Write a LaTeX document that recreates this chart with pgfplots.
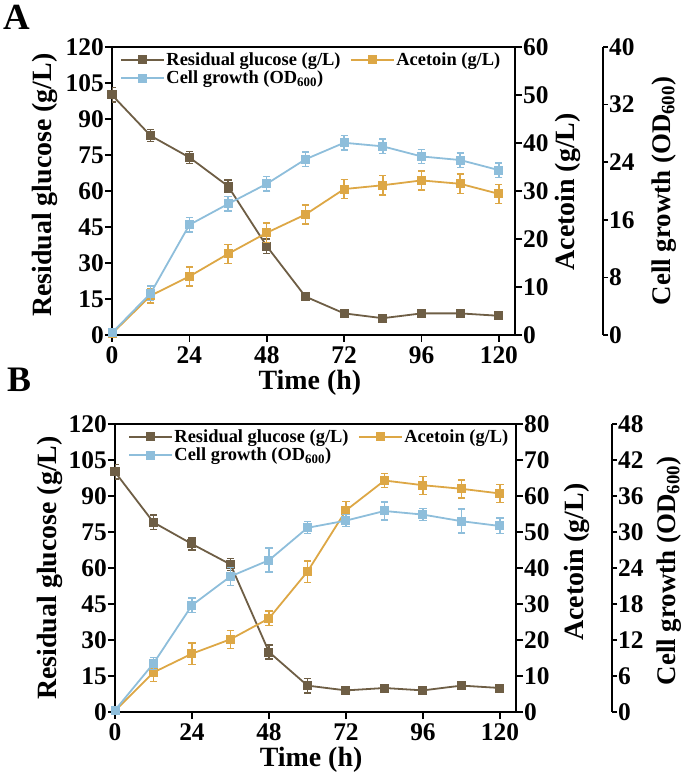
\documentclass[border=0pt]{standalone}
\usepackage{pgfplots}
\pgfplotsset{compat=1.18}
\usepackage{fontspec}
\setmainfont{Liberation Serif}

\definecolor{glu}{HTML}{6E5E45}
\definecolor{ace}{HTML}{DDA745}
\definecolor{od}{HTML}{8EBEDB}

\pgfplotsset{
  base/.style={scale only axis, height=288bp, xmin=0, xmax=125,
    axis line style={line width=1.8bp},
    tick style={line width=1.6bp, black},
    major tick length=7bp, tick align=outside,
    tick label style={font=\fontsize{25.5}{25.5}\selectfont\bfseries, inner sep=1bp},
    /pgf/number format/assume math mode=true,
    label style={font=\fontsize{28}{28}\selectfont\bfseries},
  },
  ser/.style={color=#1, line width=1.8bp, mark=square*, mark size=3.6bp,
    mark options={solid}},
  eb/.style={error bars/.cd, y dir=both, y explicit,
    error bar style={line width=1.4bp, solid},
    error mark options={rotate=90, mark size=3.6bp, line width=1.4bp},
    /pgfplots/.cd},
  leg/.style={legend columns=2, legend cell align=left,
    legend style={at={(axis description cs:0,1)}, anchor=north west,
      xshift=#1, yshift=-4bp, draw=none, fill=none,
      font=\fontsize{18.5}{18.5}\selectfont\bfseries,
      inner sep=0pt, row sep=1bp, nodes={inner sep=1.5bp},
      /tikz/every even column/.append style={column sep=8bp}},
    legend image code/.code={\draw[mark repeat=2,mark phase=2]
      plot coordinates {(0bp,0bp)(21.5bp,0bp)(43bp,0bp)};}},
}

\begin{document}
\begin{tikzpicture}
\useasboundingbox (0,0) rectangle (685bp,775bp);

\node[anchor=base west, inner sep=0] at (3bp,745bp) {\fontsize{37}{37}\selectfont\bfseries A};
\node[anchor=base west, inner sep=0] at (7bp,383bp) {\fontsize{36}{36}\selectfont\bfseries B};

% ---------------- panel A ----------------
\begin{axis}[base, leg=8bp, at={(112bp,440bp)}, anchor=south west, width=403bp,
  ymin=0, ymax=120, ytick={0,15,...,120}, xtick={0,24,...,120},
  xtick pos=bottom, ytick pos=left,
  xticklabel style={yshift=-3bp},
  xlabel={Time (h)}, ylabel={Residual glucose (g/L)},
  xlabel style={at={(axis description cs:0.491,-0.166)}, anchor=center},
  ylabel style={at={(axis description cs:-0.166,0.52)}, anchor=center}]
\addlegendimage{ser=glu}\addlegendentry{Residual glucose (g/L)}
\addlegendimage{ser=ace}\addlegendentry{Acetoin (g/L)}
\addlegendimage{ser=od}\addlegendentry{Cell growth (OD\textsubscript{600})}
\addplot[forget plot, ser=glu, eb] coordinates {
  (0,100) +- (0,3) (12,83) +- (0,2.5) (24,74) +- (0,2.5) (36,62) +- (0,2.5)
  (48,37) +- (0,3) (60,16) +- (0,1) (72,9) +- (0,1) (84,7) +- (0,1)
  (96,9) +- (0,0.8) (108,9) +- (0,0.8) (120,8) +- (0,1)};
\end{axis}

\begin{axis}[base, at={(112bp,440bp)}, anchor=south west, width=403bp,
  hide x axis, axis y line*=right, ymin=0, ymax=60, ytick={0,10,...,60},
  ylabel={Acetoin (g/L)},
  ylabel style={at={(axis description cs:1.1315,0.497)}, anchor=center}]
\addplot[ser=ace, eb] coordinates {
  (0,0.3) +- (0,0) (12,8.2) +- (0,1.5) (24,12.2) +- (0,2) (36,16.9) +- (0,2)
  (48,21.3) +- (0,2) (60,25.1) +- (0,2) (72,30.4) +- (0,2) (84,31.2) +- (0,2)
  (96,32.2) +- (0,2) (108,31.5) +- (0,2) (120,29.4) +- (0,2)};
\end{axis}

\begin{axis}[base, at={(112bp,440bp)}, anchor=south west, width=403bp,
  hide axis, ymin=0, ymax=40]
\addplot[ser=od, eb] coordinates {
  (0,0.3) +- (0,0) (12,5.8) +- (0,1) (24,15.3) +- (0,1) (36,18.2) +- (0,1)
  (48,21) +- (0,1) (60,24.4) +- (0,1) (72,26.7) +- (0,1) (84,26.2) +- (0,1)
  (96,24.8) +- (0,1) (108,24.3) +- (0,1) (120,22.9) +- (0,1)};
\end{axis}

\begin{axis}[base, at={(603bp,440bp)}, anchor=south east, width=10bp,
  xmin=0, xmax=1, hide x axis, axis y line*=right, ymin=0, ymax=40,
  ytick={0,8,...,40}, major tick length=5bp,
  ylabel={Cell growth (OD\textsubscript{600})},
  ylabel style={at={(axis description cs:7.1,0.5)}, anchor=center,
    font=\fontsize{27}{27}\selectfont\bfseries}]
\end{axis}

% ---------------- panel B ----------------
\begin{axis}[base, leg=13bp, at={(115bp,63bp)}, anchor=south west, width=401bp,
  ymin=0, ymax=120, ytick={0,15,...,120}, xtick={0,24,...,120},
  xtick pos=bottom, ytick pos=left,
  xticklabel style={yshift=-3bp},
  xlabel={Time (h)}, ylabel={Residual glucose (g/L)},
  xlabel style={at={(axis description cs:0.489,-0.167)}, anchor=center},
  ylabel style={at={(axis description cs:-0.162,0.5)}, anchor=center}]
\addlegendimage{ser=glu}\addlegendentry{Residual glucose (g/L)}
\addlegendimage{ser=ace}\addlegendentry{Acetoin (g/L)}
\addlegendimage{ser=od}\addlegendentry{Cell growth (OD\textsubscript{600})}
\addplot[forget plot, ser=glu, eb] coordinates {
  (0,100) +- (0,3) (12,79) +- (0,3) (24,70) +- (0,2.5) (36,61.5) +- (0,2.5)
  (48,25) +- (0,3) (60,11) +- (0,3) (72,9) +- (0,1) (84,10) +- (0,1)
  (96,9) +- (0,1) (108,11) +- (0,1) (120,10) +- (0,1)};
\end{axis}

\begin{axis}[base, at={(115bp,63bp)}, anchor=south west, width=401bp,
  hide x axis, axis y line*=right, ymin=0, ymax=80, ytick={0,10,...,80},
  ylabel={Acetoin (g/L)},
  ylabel style={at={(axis description cs:1.152,0.52)}, anchor=center}]
\addplot[ser=ace, eb] coordinates {
  (0,0.3) +- (0,0) (12,11) +- (0,2.5) (24,16.2) +- (0,3) (36,20.2) +- (0,2.5)
  (48,26) +- (0,2) (60,39) +- (0,3) (72,56) +- (0,2.5) (84,64.3) +- (0,2)
  (96,63) +- (0,2.5) (108,62) +- (0,2.5) (120,60.7) +- (0,2.5)};
\end{axis}

\begin{axis}[base, at={(115bp,63bp)}, anchor=south west, width=401bp,
  hide axis, ymin=0, ymax=48]
\addplot[ser=od, eb] coordinates {
  (0,0.3) +- (0,0) (12,8.1) +- (0,1) (24,17.8) +- (0,1.2) (36,22.6) +- (0,1.5)
  (48,25.3) +- (0,2) (60,30.7) +- (0,1) (72,31.9) +- (0,1) (84,33.5) +- (0,1.5)
  (96,32.9) +- (0,1) (108,31.8) +- (0,2) (120,31) +- (0,1.3)};
\end{axis}

\begin{axis}[base, at={(612bp,63bp)}, anchor=south east, width=10bp,
  xmin=0, xmax=1, hide x axis, axis y line*=right, ymin=0, ymax=48,
  ytick={0,6,...,48}, major tick length=5bp,
  ylabel={Cell growth (OD\textsubscript{600})},
  ylabel style={at={(axis description cs:6.7,0.49)}, anchor=center,
    font=\fontsize{27}{27}\selectfont\bfseries}]
\end{axis}
\end{tikzpicture}
\end{document}
